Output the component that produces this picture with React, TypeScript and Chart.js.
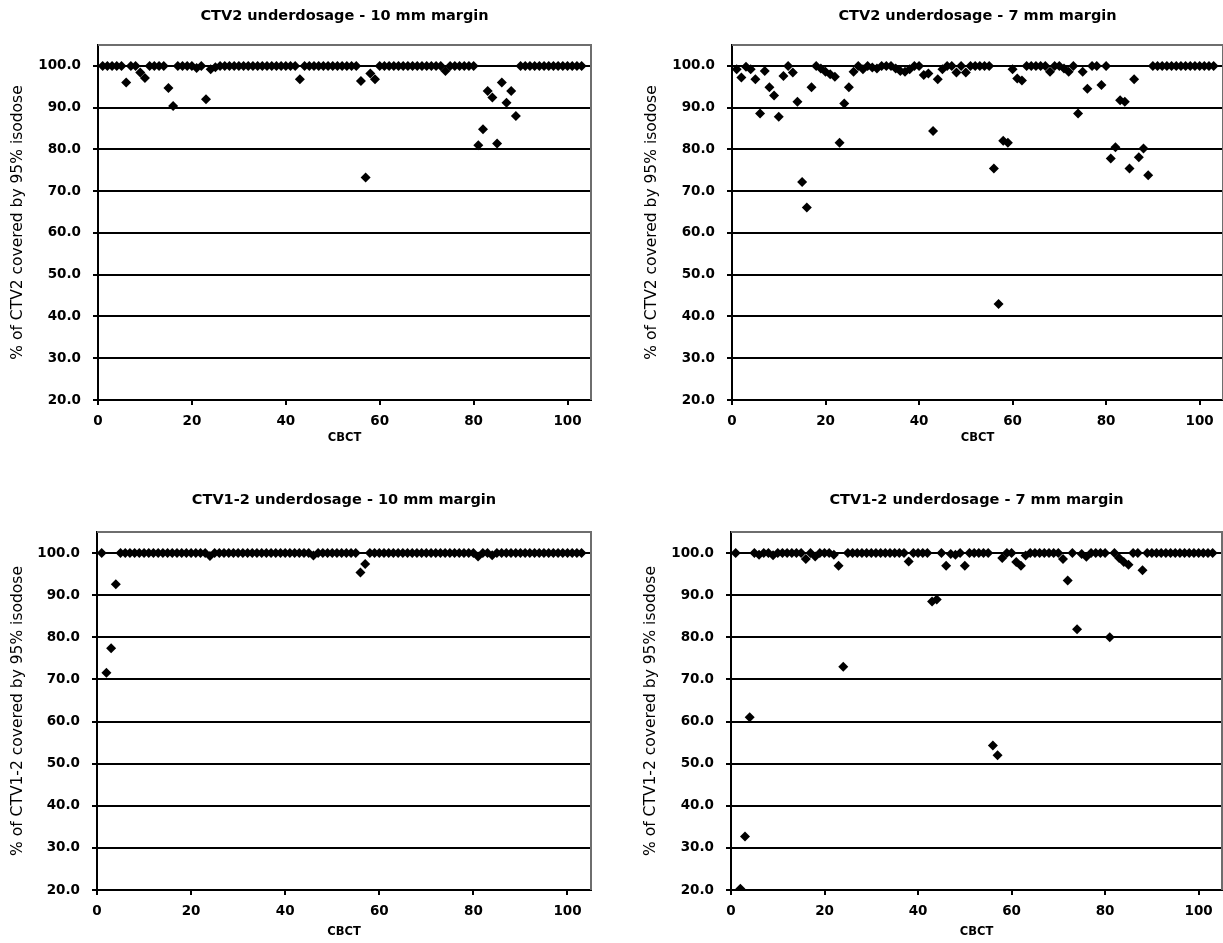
import React, { useEffect, useRef } from "react";
import { Chart, registerables } from "chart.js";

Chart.register(...registerables);

// CBCT fraction numbers (x values)
const cbctNumbers = [
  1, 2, 3, 4, 5, 6, 7, 8, 9, 10, 11, 12, 13, 14, 15, 16, 17, 18, 19, 20,
  21, 22, 23, 24, 25, 26, 27, 28, 29, 30, 31, 32, 33, 34, 35, 36, 37, 38, 39, 40,
  41, 42, 43, 44, 45, 46, 47, 48, 49, 50, 51, 52, 53, 54, 55, 56, 57, 58, 59, 60,
  61, 62, 63, 64, 65, 66, 67, 68, 69, 70, 71, 72, 73, 74, 75, 76, 77, 78, 79, 80,
  81, 82, 83, 84, 85, 86, 87, 88, 89, 90, 91, 92, 93, 94, 95, 96, 97, 98, 99, 100,
  101, 102, 103,
];

const ctv2Margin10 = [
  100, 100, 100, 100, 100, 96.0, 100, 100, 98.4, 97.1,
  100, 100, 100, 100, 94.7, 90.4, 100, 100, 100, 100,
  99.5, 100, 92.0, 99.2, 99.7, 100, 100, 100, 100, 100,
  100, 100, 100, 100, 100, 100, 100, 100, 100, 100,
  100, 100, 96.8, 100, 100, 100, 100, 100, 100, 100,
  100, 100, 100, 100, 100, 96.4, 73.3, 98.2, 96.8, 100,
  100, 100, 100, 100, 100, 100, 100, 100, 100, 100,
  100, 100, 100, 98.8, 100, 100, 100, 100, 100, 100,
  81.0, 84.8, 94.0, 92.4, 81.4, 96.0, 91.2, 94.0, 88.0, 100,
  100, 100, 100, 100, 100, 100, 100, 100, 100, 100,
  100, 100, 100,
];

const ctv2Margin7 = [
  99.2, 97.2, 99.8, 99.2, 96.8, 88.6, 98.8, 94.9, 92.9, 87.8,
  97.6, 100, 98.4, 91.4, 72.2, 66.1, 94.9, 100, 99.4, 98.6,
  98.0, 97.4, 81.6, 91.0, 94.9, 98.6, 100, 99.2, 100, 99.6,
  99.4, 100, 100, 100, 99.4, 98.8, 98.6, 99.2, 100, 100,
  97.8, 98.2, 84.4, 96.8, 99.2, 100, 100, 98.4, 100, 98.4,
  100, 100, 100, 100, 100, 75.4, 43.0, 82.1, 81.6, 99.2,
  97.0, 96.5, 100, 100, 100, 100, 100, 98.6, 100, 100,
  99.4, 98.6, 100, 88.6, 98.6, 94.5, 100, 100, 95.4, 100,
  77.8, 80.5, 91.8, 91.4, 75.4, 96.8, 78.1, 80.2, 73.8, 100,
  100, 100, 100, 100, 100, 100, 100, 100, 100, 100,
  100, 100, 100,
];

const ctv12Margin10 = [
  100, 71.6, 77.4, 92.6, 100, 100, 100, 100, 100, 100,
  100, 100, 100, 100, 100, 100, 100, 100, 100, 100,
  100, 100, 100, 99.3, 100, 100, 100, 100, 100, 100,
  100, 100, 100, 100, 100, 100, 100, 100, 100, 100,
  100, 100, 100, 100, 100, 99.4, 100, 100, 100, 100,
  100, 100, 100, 100, 100, 95.4, 97.4, 100, 100, 100,
  100, 100, 100, 100, 100, 100, 100, 100, 100, 100,
  100, 100, 100, 100, 100, 100, 100, 100, 100, 100,
  99.2, 100, 100, 99.5, 100, 100, 100, 100, 100, 100,
  100, 100, 100, 100, 100, 100, 100, 100, 100, 100,
  100, 100, 100,
];

const ctv12Margin7 = [
  100, 20.3, 32.7, 61.0, 100, 99.6, 100, 100, 99.5, 100,
  100, 100, 100, 100, 100, 98.6, 100, 99.2, 100, 100,
  100, 99.6, 97.0, 73.0, 100, 100, 100, 100, 100, 100,
  100, 100, 100, 100, 100, 100, 100, 98.0, 100, 100,
  100, 100, 88.5, 89.0, 100, 97.0, 99.8, 99.6, 100, 97.0,
  100, 100, 100, 100, 100, 54.3, 52.0, 98.8, 100, 100,
  97.9, 97.0, 99.4, 100, 100, 100, 100, 100, 100, 100,
  98.6, 93.5, 100, 81.9, 99.8, 99.1, 100, 100, 100, 100,
  80.0, 100, 98.8, 97.9, 97.2, 100, 100, 95.9, 100, 100,
  100, 100, 100, 100, 100, 100, 100, 100, 100, 100,
  100, 100, 100,
];

const xTickValues = [0, 20, 40, 60, 80, 100];
const yTickValues = [20, 30, 40, 50, 60, 70, 80, 90, 100];

const FONT = "'DejaVu Sans', 'Liberation Sans', Arial, sans-serif";

const framePlugin = {
  id: "plotFrame",
  beforeDatasetsDraw(chart: any) {
    const { ctx, chartArea } = chart;
    const { left, top, right, bottom } = chartArea;
    ctx.save();
    ctx.strokeStyle = "#6e6e6e";
    ctx.lineWidth = 2;
    ctx.beginPath();
    ctx.moveTo(left, top);
    ctx.lineTo(right, top);
    ctx.lineTo(right, bottom);
    ctx.stroke();
    ctx.restore();
  },
};

type PanelProps = {
  title: string;
  yTitle: string;
  values: number[];
  left: number;
  top: number;
  width: number;
  height: number;
  padRight: number;
  yAxisWidth: number;
  titlePadTop: number;
  xTitlePadBottom: number;
};

function Panel(props: PanelProps) {
  const ref = useRef<HTMLCanvasElement>(null);
  useEffect(() => {
    const canvas = ref.current;
    if (!canvas) return;
    const points = cbctNumbers.map((x, i) => ({ x, y: props.values[i] }));
    const chart = new Chart(canvas, {
      type: "scatter",
      data: {
        datasets: [
          {
            data: points,
            pointStyle: "rectRot",
            pointRadius: 5,
            pointBackgroundColor: "#000",
            pointBorderColor: "#000",
            pointBorderWidth: 0,
            showLine: false,
          },
        ],
      },
      options: {
        responsive: false,
        animation: false,
        devicePixelRatio: 1,
        layout: { padding: { left: 0, right: props.padRight, top: 0, bottom: 0 } },
        plugins: {
          legend: { display: false },
          tooltip: { enabled: false },
          title: {
            display: true,
            text: props.title,
            fullSize: false,
            color: "#000",
            font: { family: FONT, size: 14.5, weight: "bold" },
            padding: { top: props.titlePadTop, bottom: 27.6 - props.titlePadTop },
          },
        },
        scales: {
          x: {
            type: "linear",
            min: 0,
            max: 105,
            afterBuildTicks: (scale: any) => {
              scale.ticks = xTickValues.map((v) => ({ value: v }));
            },
            afterFit: (scale: any) => {
              scale.height = 60;
            },
            ticks: {
              color: "#000",
              font: { family: FONT, size: 13.5, weight: "bold" },
              padding: 8,
              maxRotation: 0,
              autoSkip: false,
              includeBounds: false,
            },
            grid: {
              drawOnChartArea: false,
              drawTicks: true,
              tickLength: 5,
              color: "#000",
              lineWidth: 2,
            },
            border: { display: true, color: "#000", width: 2 },
            title: {
              display: true,
              text: "CBCT",
              color: "#000",
              font: { family: FONT, size: 11.5, weight: "bold" },
              padding: { top: 0, bottom: props.xTitlePadBottom },
            },
          },
          y: {
            type: "linear",
            min: 20,
            max: 105,
            afterBuildTicks: (scale: any) => {
              scale.ticks = yTickValues.map((v) => ({ value: v }));
            },
            afterFit: (scale: any) => {
              scale.width = props.yAxisWidth;
            },
            ticks: {
              color: "#000",
              font: { family: FONT, size: 13.5, weight: "bold" },
              padding: 12,
              includeBounds: false,
              callback: (v: any) => Number(v).toFixed(1),
            },
            grid: {
              drawTicks: true,
              tickLength: 5,
              color: "#000",
              lineWidth: 2,
            },
            border: { display: true, color: "#000", width: 2 },
            title: {
              display: true,
              text: props.yTitle,
              color: "#000",
              font: { family: FONT, size: 15.5, weight: "normal" },
              padding: { top: 9, bottom: 0 },
            },
          },
        },
      },
      plugins: [framePlugin],
    } as any);
    return () => chart.destroy();
  }, []);
  return (
    <canvas
      ref={ref}
      width={props.width}
      height={props.height}
      style={{
        position: "absolute",
        left: props.left,
        top: props.top,
        width: props.width,
        height: props.height,
      }}
    />
  );
}

export default function App() {
  return (
    <div
      style={{
        position: "absolute",
        left: 0,
        top: 0,
        width: 1223,
        height: 943,
        overflow: "hidden",
        background: "#fff",
      }}
    >
      <Panel
        title="CTV2 underdosage - 10 mm margin"
        yTitle="% of CTV2 covered by 95% isodose"
        values={ctv2Margin10}
        left={0}
        top={0}
        width={611}
        height={460}
        padRight={20}
        yAxisWidth={98}
        titlePadTop={8}
        xTitlePadBottom={15}
      />
      <Panel
        title="CTV2 underdosage - 7 mm margin"
        yTitle="% of CTV2 covered by 95% isodose"
        values={ctv2Margin7}
        left={634}
        top={0}
        width={594}
        height={460}
        padRight={0}
        yAxisWidth={98}
        titlePadTop={8}
        xTitlePadBottom={15}
      />
      <Panel
        title="CTV1-2 underdosage - 10 mm margin"
        yTitle="% of CTV1-2 covered by 95% isodose"
        values={ctv12Margin10}
        left={0}
        top={487}
        width={611}
        height={463}
        padRight={20}
        yAxisWidth={97}
        titlePadTop={5}
        xTitlePadBottom={11}
      />
      <Panel
        title="CTV1-2 underdosage - 7 mm margin"
        yTitle="% of CTV1-2 covered by 95% isodose"
        values={ctv12Margin7}
        left={633}
        top={487}
        width={594}
        height={463}
        padRight={0}
        yAxisWidth={98}
        titlePadTop={5}
        xTitlePadBottom={11}
      />
    </div>
  );
}
